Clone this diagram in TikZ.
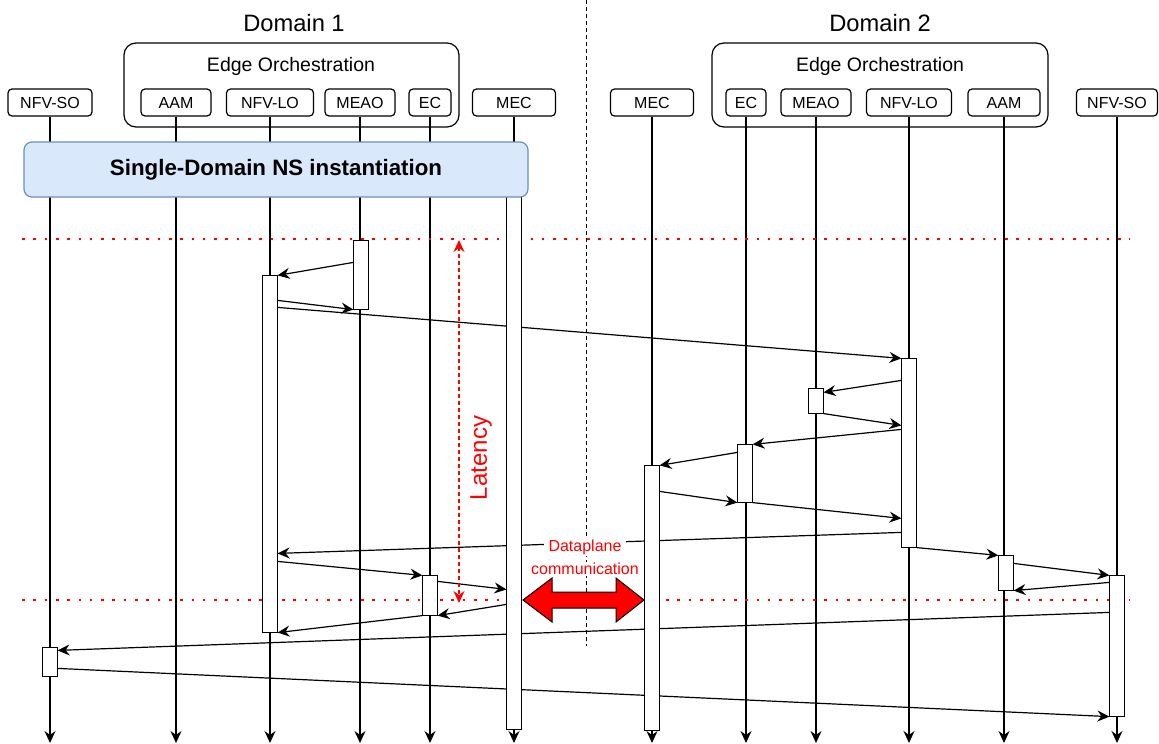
\documentclass[tikz,border=0pt]{standalone}
\usepackage{fontspec}
\setmainfont{Liberation Sans}
\usetikzlibrary{arrows.meta,calc}
\definecolor{sdfill}{HTML}{DAE8FC}
\definecolor{sdline}{HTML}{6C8EBF}
\definecolor{pred}{HTML}{FF0000}
\begin{document}
\begin{tikzpicture}[x=1pt,y=-1pt,line width=1.2pt,
  part/.style={draw, rounded corners=4pt, fill=white, minimum height=27pt, inner sep=0pt, font=\fontsize{16}{19}\selectfont},
  grp/.style={draw, rounded corners=12pt},
  bar/.style={draw, fill=white, minimum width=14pt, inner sep=0pt},
  life/.style={-{Stealth[length=12pt,width=11pt,inset=4pt]}},
  msg/.style={-{Stealth[length=12pt,width=11pt,inset=4pt]}},
  reddot/.style={pred, line width=2.6pt, dash pattern=on 2.6pt off 8.7pt},
  domlabel/.style={font=\fontsize{23.7}{28}\selectfont},
  grplabel/.style={font=\fontsize{19.5}{23}\selectfont}]
\useasboundingbox (0,0) rectangle (1159,744);

% group boxes
\draw[grp] (124,43) rectangle (459,127);
\draw[grp] (712,43) rectangle (1048,127);
\node[grplabel] (eo1) at (291,66) {Edge Orchestration};
\node[grplabel] (eo2) at (880,66) {Edge Orchestration};
\node[domlabel] (d1) at (294,23) {Domain 1};
\node[domlabel] (d2) at (880,23) {Domain 2};

% participants
\node[part, minimum width=84pt] (pSO1) at (50,102.5) {NFV-SO};
\node[part, minimum width=70pt] (pAAM1) at (176,102.5) {AAM};
\node[part, minimum width=87pt] (pLO1) at (270,102.5) {NFV-LO};
\node[part, minimum width=70pt] (pMEAO1) at (360,102.5) {MEAO};
\node[part, minimum width=42pt] (pEC1) at (430,102.5) {EC};
\node[part, minimum width=83pt] (pMEC1) at (514,102.5) {MEC};
\node[part, minimum width=83pt] (pMEC2) at (652,102.5) {MEC};
\node[part, minimum width=40pt] (pEC2) at (746,102.5) {EC};
\node[part, minimum width=70pt] (pMEAO2) at (816,102.5) {MEAO};
\node[part, minimum width=85pt] (pLO2) at (909,102.5) {NFV-LO};
\node[part, minimum width=72pt] (pAAM2) at (1004,102.5) {AAM};
\node[part, minimum width=81pt] (pSO2) at (1117,102.5) {NFV-SO};

% lifelines
\coordinate (bot) at (0,743);
\foreach \p in {pSO1,pAAM1,pLO1,pMEAO1,pEC1,pMEC1,pMEC2,pEC2,pMEAO2,pLO2,pAAM2,pSO2}
  \draw[life] (\p.south) -- (\p.south |- bot);

% domain divider
\coordinate (divT) at (586,0);
\coordinate (divB) at (586,646);
\draw[line width=0.9pt, dash pattern=on 3.5pt off 3.5pt] (divT) -- (divB);

% red dotted lines
\coordinate (rdA1) at (22,239);
\coordinate (rdA2) at (1130,239);
\coordinate (rdB1) at (22,600);
\coordinate (rdB2) at (1130,600);
\draw[reddot] (rdA1) -- (rdA2);
\draw[reddot] (rdB1) -- (rdB2);

% activation bars (defined, drawn later on top)
\path
  node[bar, minimum height=28pt] (bSO1) at (50,662) {}
  node[bar, minimum height=356pt] (bLO1) at (270,454) {}
  node[bar, minimum height=68pt] (bMEAO1) at (361,275) {}
  node[bar, minimum height=39pt] (bEC1) at (430,595.5) {}
  node[bar, minimum height=532pt] (bMEC1) at (514,463) {}
  node[bar, minimum height=264pt] (bMEC2) at (652,598) {}
  node[bar, minimum height=57pt] (bEC2) at (745,473.5) {}
  node[bar, minimum height=24pt] (bMEAO2) at (816,401) {}
  node[bar, minimum height=188pt] (bLO2) at (909,453) {}
  node[bar, minimum height=34pt] (bAAM2) at (1006,573) {}
  node[bar, minimum height=140pt] (bSO2) at (1117,646) {};

% messages
\draw[msg] ([yshift=-22pt]bMEAO1.north west) -- (bLO1.north east);
\draw[msg] ([yshift=-25pt]bLO1.north east) -- (bMEAO1.south west);
\draw[msg] ([yshift=-32pt]bLO1.north east) -- (bLO2.north west);
\draw[msg] ([yshift=-22pt]bLO2.north west) -- ([yshift=-4pt]bMEAO2.north east);
\draw[msg] (bMEAO2.south east) -- ([yshift=-67pt]bLO2.north west);
\draw[msg] ([yshift=-71pt]bLO2.north west) -- (bEC2.north east);
\draw[msg] ([yshift=-8pt]bEC2.north west) -- (bMEC2.north east);
\draw[msg] ([yshift=-26pt]bMEC2.north east) -- (bEC2.south west);
\draw[msg] (bEC2.south east) -- ([yshift=-160pt]bLO2.north west);
\draw[msg] ([yshift=-174pt]bLO2.north west) -- ([yshift=-278pt]bLO1.north east);
\draw[msg] (bLO2.south east) -- (bAAM2.north west);
\draw[msg] ([yshift=-8pt]bAAM2.north east) -- (bSO2.north west);
\draw[msg] ([yshift=-7pt]bSO2.north west) -- (bAAM2.south east);
\draw[msg] ([yshift=-37pt]bSO2.north west) -- ([yshift=-3pt]bSO1.north east);
\draw[msg] ([yshift=-21pt]bSO1.north east) -- (bSO2.south west);
\draw[msg] ([yshift=-286pt]bLO1.north east) -- (bEC1.north west);
\draw[msg] ([yshift=-6pt]bEC1.north east) -- ([yshift=-393pt]bMEC1.north west);
\draw[msg] ([yshift=-408pt]bMEC1.north west) -- (bEC1.south east);
\draw[msg] (bEC1.south west) -- (bLO1.south east);

% draw bars on top
\foreach \b in {bSO1,bLO1,bMEAO1,bEC1,bMEC1,bMEC2,bEC2,bMEAO2,bLO2,bAAM2,bSO2}
  \draw[fill=white] (\b.north west) rectangle (\b.south east);

% single-domain box
\node[draw=sdline, fill=sdfill, rounded corners=8pt, minimum width=504pt, minimum height=55pt, inner sep=0pt,
  font=\bfseries\fontsize{22.3}{26}\selectfont] (sd) at (276,169.5) {Single-Domain NS instantiation};

% dataplane arrow
\draw[fill=pred, line width=1pt] (523,600) -- (552,578) -- (552,592) -- (616,592) -- (616,578) -- (644,600)
  -- (616,622) -- (616,608) -- (552,608) -- (552,622) -- cycle;
\node[pred, fill=white, inner sep=1.5pt, inner xsep=5pt, font=\fontsize{16}{19}\selectfont] (dpl1) at (585,547.5) {Dataplane};
\node[pred, fill=white, inner sep=1pt, font=\fontsize{16}{19}\selectfont] (dpl2) at (585,569) {communication};

% latency
\coordinate (latT) at (459,240);
\coordinate (latB) at (459,603);
\draw[pred, line width=1.4pt, dash pattern=on 4pt off 3pt, {Stealth[length=12pt,width=11pt,inset=4pt]}-{Stealth[length=12pt,width=11pt,inset=4pt]}] (latT) -- (latB);
\node[pred, rotate=90, font=\fontsize{24}{28}\selectfont] (lat) at (481,458) {Latency};
\end{tikzpicture}
\end{document}
